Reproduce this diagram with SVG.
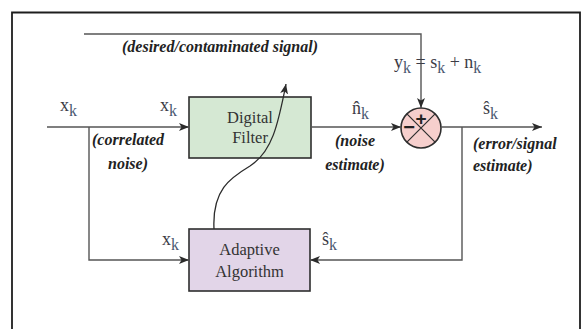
<svg xmlns="http://www.w3.org/2000/svg" width="582" height="329" viewBox="0 0 582 329">
  <defs>
    <marker id="arrow" viewBox="0 0 10 8" refX="10" refY="4" markerWidth="10" markerHeight="8" markerUnits="userSpaceOnUse" orient="auto">
      <path d="M0,0 L10,4 L0,8 L2.5,4 Z" fill="#2b2b2b"/>
    </marker>
    <style>
      .frame { fill: none; stroke: #1e1e1e; stroke-width: 1.8; }
      .wire { fill: none; stroke: #555; stroke-width: 1.4; }
      .box { stroke: #2e2e2e; stroke-width: 1.6; }
      .boxtext { font-family: "Liberation Serif", "Times New Roman", serif; font-size: 16.5px; fill: #333; text-anchor: middle; }
      .note { font-family: "Liberation Serif", "Times New Roman", serif; font-size: 16px; font-weight: bold; font-style: italic; fill: #222; }
      .sym { font-family: "Liberation Serif", "Times New Roman", serif; font-size: 18px; fill: #3c3c46; }
      .sub { font-size: 16px; fill: #4a5670; }
      .sign { font-family: "Liberation Sans", Arial, sans-serif; font-weight: bold; fill: #222; text-anchor: middle; }
    </style>
  </defs>

  <rect width="582" height="329" fill="#fff"/>

  <!-- outer frame (bottom edge runs past the canvas) -->
  <path class="frame" d="M12,340 V12.5 H580 V340"/>

  <!-- digital filter -->
  <g id="digital-filter">
    <rect class="box" x="189" y="97" width="122" height="61" fill="#d5e8d3"/>
    <text class="boxtext" x="250" y="123">Digital</text>
    <text class="boxtext" x="250" y="143">Filter</text>
  </g>

  <!-- adaptive algorithm -->
  <g id="adaptive-algorithm">
    <rect class="box" x="189" y="229" width="121" height="62" fill="#e2d5e8"/>
    <text class="boxtext" x="249.5" y="255" font-size="17.5">Adaptive</text>
    <text class="boxtext" x="249.5" y="277" font-size="17.5">Algorithm</text>
  </g>

  <!-- summing junction -->
  <g id="summer">
    <circle cx="421" cy="128" r="20" fill="#f6cfcd" stroke="#2e2e2e" stroke-width="1.6"/>
    <path d="M406.9,113.9 L435.1,142.1 M435.1,113.9 L406.9,142.1" stroke="#2e2e2e" stroke-width="1.2"/>
    <text class="sign" x="421" y="124.5" font-size="19">+</text>
    <text class="sign" x="409" y="134" font-size="20">−</text>
  </g>

  <!-- connectors (drawn last so the update arrow crosses over the filter) -->
  <g id="connectors">
    <!-- reference input x_k to the filter -->
    <path class="wire" d="M47,127 H189" marker-end="url(#arrow)"/>
    <!-- x_k branch to the adaptive algorithm -->
    <path class="wire" d="M89,127 V260 H189" marker-end="url(#arrow)"/>
    <!-- desired / contaminated signal into the summer -->
    <path class="wire" d="M84,34 H421 V108" marker-end="url(#arrow)"/>
    <!-- noise estimate into the summer -->
    <path class="wire" d="M311,127 H401" marker-end="url(#arrow)"/>
    <!-- error / signal estimate output -->
    <path class="wire" d="M441,127 H542" marker-end="url(#arrow)"/>
    <!-- error fed back to the adaptive algorithm -->
    <path class="wire" d="M462,127 V260 H310" marker-end="url(#arrow)"/>
    <!-- coefficient update arrow through the filter -->
    <path fill="none" stroke="#2b2b2b" stroke-width="1.3" d="M214,229 C212,190 230,178 250,166 C272,152 278,125 286,84" marker-end="url(#arrow)"/>
  </g>

  <!-- signal labels -->
  <g id="labels">
    <text class="sym" x="60" y="111">x<tspan class="sub" dy="5">k</tspan></text>
    <text class="sym" x="160" y="111">x<tspan class="sub" dy="5">k</tspan></text>
    <text class="sym" x="352" y="114">n̂<tspan class="sub" dy="5">k</tspan></text>
    <text class="sym" x="483" y="114">ŝ<tspan class="sub" dy="5">k</tspan></text>
    <text class="sym" x="162" y="245">x<tspan class="sub" dy="5">k</tspan></text>
    <text class="sym" x="322" y="245">ŝ<tspan class="sub" dy="5">k</tspan></text>
    <text class="sym" x="394" y="68">y<tspan class="sub" dy="5">k</tspan><tspan dy="-5"> = s</tspan><tspan class="sub" dy="5">k</tspan><tspan dy="-5"> + n</tspan><tspan class="sub" dy="5">k</tspan></text>

    <text class="note" x="122" y="52">(desired/contaminated signal)</text>
    <text class="note" x="128" y="145" text-anchor="middle">(correlated</text>
    <text class="note" x="128" y="169" text-anchor="middle">noise)</text>
    <text class="note" x="355" y="146" text-anchor="middle">(noise</text>
    <text class="note" x="355" y="170" text-anchor="middle">estimate)</text>
    <text class="note" x="473" y="149">(error/signal</text>
    <text class="note" x="473" y="171">estimate)</text>
  </g>
</svg>
